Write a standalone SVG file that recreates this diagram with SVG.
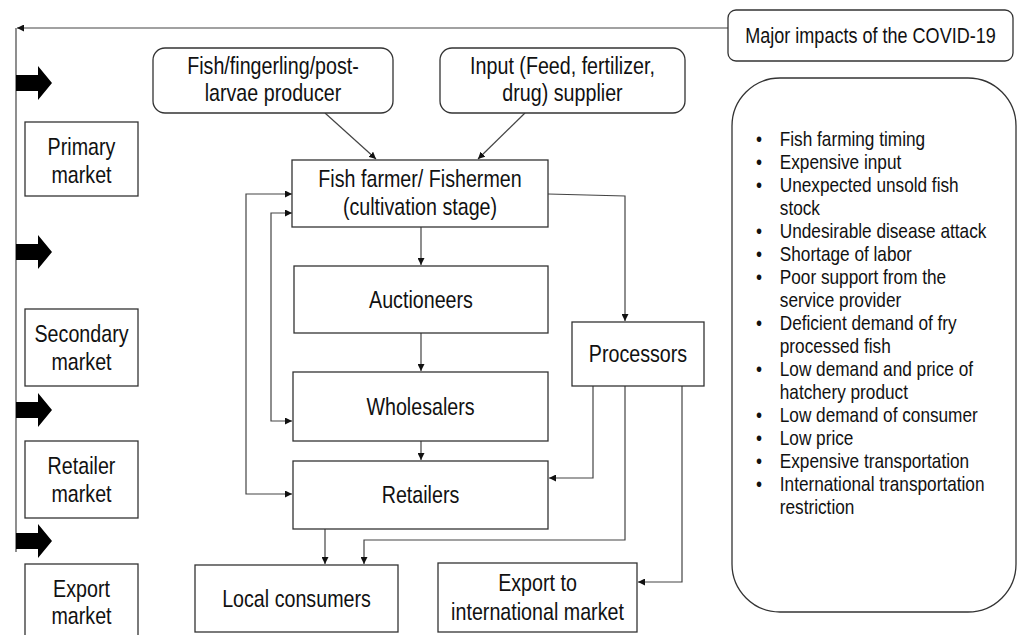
<svg xmlns="http://www.w3.org/2000/svg" width="1017" height="635" viewBox="0 0 1017 635">
<style>
.box{fill:#fff;stroke:#333;stroke-width:1.3}
.t{font-family:"Liberation Sans",Arial,sans-serif;font-size:24px;fill:#111;text-anchor:middle}
.b{font-family:"Liberation Sans",Arial,sans-serif;font-size:21px;fill:#111}
.c{fill:none;stroke:#444;stroke-width:1.2}
.big{fill:#000}
</style>
<defs>
<marker id="ah" viewBox="0 0 10 10" refX="10" refY="5" markerWidth="7" markerHeight="7" markerUnits="userSpaceOnUse" orient="auto-start-reverse">
<path d="M0,0 L10,5 L0,10 z" fill="#111"/>
</marker>
</defs>
<rect width="1017" height="635" fill="#fff"/>

<g id="connectors">
<path class="c" d="M728,28 L17,28" marker-end="url(#ah)"/>
<path class="c" d="M16,28 L16,552"/>
<path class="c" d="M325,113 L376,159" marker-end="url(#ah)"/>
<path class="c" d="M525,113 L478,159" marker-end="url(#ah)"/>
<path class="c" d="M548,194 L625,196 L625,321" marker-end="url(#ah)"/>
<path class="c" d="M421,227 L421,265" marker-end="url(#ah)"/>
<path class="c" d="M421,333 L421,371" marker-end="url(#ah)"/>
<path class="c" d="M421,441 L421,460" marker-end="url(#ah)"/>
<path class="c" d="M292,194 L246,194 L246,494 L292,494" marker-start="url(#ah)" marker-end="url(#ah)"/>
<path class="c" d="M292,213 L271,213 L271,421 L292,421" marker-start="url(#ah)" marker-end="url(#ah)"/>
<path class="c" d="M593,386 L593,478 L549,478" marker-end="url(#ah)"/>
<path class="c" d="M625,386 L625,540 L364,540 L364,564" marker-end="url(#ah)"/>
<path class="c" d="M682,386 L682,582 L638,582" marker-end="url(#ah)"/>
<path class="c" d="M325,529 L325,564" marker-end="url(#ah)"/>
</g>

<g id="market-arrows">
<polygon class="big" points="16,75 38,75 38,66 52,83 38,100 38,91 16,91"/>
<polygon class="big" points="16,244 38,244 38,235 52,252 38,269 38,260 16,260"/>
<polygon class="big" points="16,402 38,402 38,393 52,410 38,427 38,418 16,418"/>
<polygon class="big" points="16,533 38,533 38,524 52,541 38,558 38,549 16,549"/>
</g>

<g id="primary-market"><rect class="box" x="25" y="122" width="113" height="74"/><text class="t" transform="translate(81.5,155) scale(0.82,1)">Primary</text><text class="t" transform="translate(81.5,183) scale(0.82,1)">market</text></g>
<g id="secondary-market"><rect class="box" x="25" y="309" width="113" height="77"/><text class="t" transform="translate(81.5,342) scale(0.82,1)">Secondary</text><text class="t" transform="translate(81.5,370) scale(0.82,1)">market</text></g>
<g id="retailer-market"><rect class="box" x="25" y="441" width="113" height="77"/><text class="t" transform="translate(81.5,474) scale(0.82,1)">Retailer</text><text class="t" transform="translate(81.5,502) scale(0.82,1)">market</text></g>
<g id="export-market"><rect class="box" x="25" y="564" width="113" height="80"/><text class="t" transform="translate(81.5,597) scale(0.82,1)">Export</text><text class="t" transform="translate(81.5,624) scale(0.82,1)">market</text></g>

<g id="producer"><rect class="box" x="153" y="48" width="240" height="65" rx="12"/><text class="t" transform="translate(273,74) scale(0.82,1)">Fish/fingerling/post-</text><text class="t" transform="translate(273,101) scale(0.82,1)">larvae producer</text></g>
<g id="input-supplier"><rect class="box" x="440" y="48" width="245" height="65" rx="12"/><text class="t" transform="translate(562.5,74) scale(0.82,1)">Input (Feed, fertilizer,</text><text class="t" transform="translate(562.5,101) scale(0.82,1)">drug) supplier</text></g>
<g id="fish-farmer"><rect class="box" x="292" y="160" width="256" height="67"/><text class="t" transform="translate(420,187) scale(0.82,1)">Fish farmer/ Fishermen</text><text class="t" transform="translate(420,215) scale(0.82,1)">(cultivation stage)</text></g>
<g id="auctioneers"><rect class="box" x="294" y="266" width="254" height="67"/><text class="t" transform="translate(421,308) scale(0.82,1)">Auctioneers</text></g>
<g id="wholesalers"><rect class="box" x="293" y="372" width="255" height="69"/><text class="t" transform="translate(420.5,415) scale(0.82,1)">Wholesalers</text></g>
<g id="retailers"><rect class="box" x="293" y="461" width="255" height="68"/><text class="t" transform="translate(420.5,503) scale(0.82,1)">Retailers</text></g>
<g id="processors"><rect class="box" x="572" y="322" width="132" height="64"/><text class="t" transform="translate(638,362) scale(0.82,1)">Processors</text></g>
<g id="local-consumers"><rect class="box" x="195" y="565" width="203" height="67"/><text class="t" transform="translate(296.5,607) scale(0.82,1)">Local consumers</text></g>
<g id="export-international"><rect class="box" x="438" y="563" width="199" height="69"/><text class="t" transform="translate(537.5,591) scale(0.82,1)">Export to</text><text class="t" transform="translate(537.5,620) scale(0.82,1)">international market</text></g>

<g id="covid-title"><rect class="box" x="728" y="10" width="285" height="51" rx="8"/><text class="t" transform="translate(870.5,43) scale(0.82,1)" style="font-size:22px">Major impacts of the COVID-19</text></g>

<g id="impacts">
<rect class="box" x="732" y="78" width="284" height="534" rx="48"/>
<g class="b" transform="translate(756,0) scale(0.82,1)">
<text x="0" y="146.5">•</text><text x="29" y="146.5">Fish farming timing</text>
<text x="0" y="169.5">•</text><text x="29" y="169.5">Expensive input</text>
<text x="0" y="192.5">•</text><text x="29" y="192.5">Unexpected unsold fish</text>
<text x="29" y="215.5">stock</text>
<text x="0" y="238.5">•</text><text x="29" y="238.5">Undesirable disease attack</text>
<text x="0" y="261.5">•</text><text x="29" y="261.5">Shortage of labor</text>
<text x="0" y="284.5">•</text><text x="29" y="284.5">Poor support from the</text>
<text x="29" y="307.5">service provider</text>
<text x="0" y="330.5">•</text><text x="29" y="330.5">Deficient demand of fry</text>
<text x="29" y="353.5">processed fish</text>
<text x="0" y="376.5">•</text><text x="29" y="376.5">Low demand and price of</text>
<text x="29" y="399.5">hatchery product</text>
<text x="0" y="422.5">•</text><text x="29" y="422.5">Low demand of consumer</text>
<text x="0" y="445.5">•</text><text x="29" y="445.5">Low price</text>
<text x="0" y="468.5">•</text><text x="29" y="468.5">Expensive transportation</text>
<text x="0" y="491.5">•</text><text x="29" y="491.5">International transportation</text>
<text x="29" y="514.5">restriction</text>
</g>
</g>
</svg>
